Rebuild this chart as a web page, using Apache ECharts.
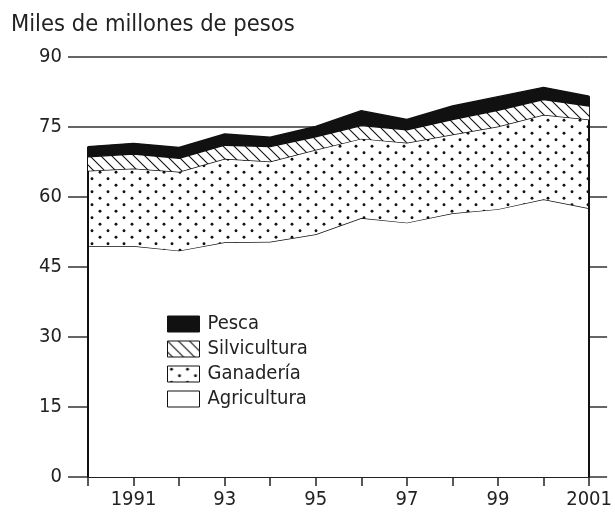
<!DOCTYPE html>
<html>
<head>
<meta charset="utf-8">
<script src="https://cdn.jsdelivr.net/npm/echarts@6/dist/echarts.min.js"></script>
<style>
html,body{margin:0;padding:0;background:#fff;}
#chart{width:615px;height:520px;}
</style>
</head>
<body>
<div id="chart"></div>
<script>
// ---- Data ----
const years = ['1990','1991','1992','1993','1994','1995','1996','1997','1998','1999','2000','2001'];
const agricultura  = [49.5,49.5,48.5,50.3,50.4,52.0,55.5,54.5,56.5,57.4,59.5,57.6];
const ganaderia    = [16.1,16.6,16.9,17.9,17.2,18.1,17.0,17.1,16.9,17.7,18.1,19.0];
const silvicultura = [3.0,3.1,2.9,2.9,3.2,2.8,2.8,2.8,3.2,3.5,3.3,2.9];
const pesca        = [2.2,2.3,2.3,2.4,2.0,2.2,3.2,2.2,2.9,2.9,2.6,2.1];
const xTickLabels = ['', '1991', '', '93', '', '95', '', '97', '', '99', '', '2001'];
const yTicks = [0,15,30,45,60,75,90];
const seriesNames = ['Agricultura','Ganadería','Silvicultura','Pesca'];
const titleText = 'Miles de millones de pesos';

const FONT = "'Liberation Sans Narrow','DejaVu Sans Condensed','Roboto Condensed',sans-serif";

// ---- Patterns ----
function dotPattern(){
  const c = document.createElement('canvas'); c.width = 16; c.height = 13;
  const g = c.getContext('2d');
  g.fillStyle = '#fff'; g.fillRect(0,0,16,13);
  g.fillStyle = '#111';
  [[4,3.2],[12,9.7]].forEach(p=>{g.beginPath();g.arc(p[0],p[1],1.45,0,Math.PI*2);g.fill();});
  return c;
}
function hatchPattern(){
  const s = 11;
  const c = document.createElement('canvas'); c.width = s; c.height = s;
  const g = c.getContext('2d');
  g.fillStyle = '#fff'; g.fillRect(0,0,s,s);
  g.strokeStyle = '#111'; g.lineWidth = 1.1;
  g.beginPath();
  g.moveTo(-1,-1); g.lineTo(s+1,s+1);
  g.moveTo(-1,s-1); g.lineTo(1,s+1);
  g.moveTo(s-1,-1); g.lineTo(s+1,1);
  g.stroke();
  return c;
}
const fills = {
  'Agricultura': '#ffffff',
  'Ganadería': {image: dotPattern(), repeat: 'repeat'},
  'Silvicultura': {image: hatchPattern(), repeat: 'repeat'},
  'Pesca': '#111111'
};
const valuesByName = {
  'Agricultura': agricultura, 'Ganadería': ganaderia,
  'Silvicultura': silvicultura, 'Pesca': pesca
};

const totals = years.map((y,i)=>agricultura[i]+ganaderia[i]+silvicultura[i]+pesca[i]);
const last = years.length-1;

const series = seriesNames.map((n,k)=>({
  name: n, type: 'line', stack: 'total', symbol: 'none', smooth: false,
  data: valuesByName[n],
  lineStyle: {color: '#111', width: 1.4},
  itemStyle: {color: '#111'},
  areaStyle: {color: fills[n], opacity: 1},
  z: 3 + k
}));
// vertical edges of the area block
series.push({
  type: 'line', symbol: 'none', silent: true, z: 10, data: [],
  markLine: {
    silent: true, symbol: ['none','none'], label: {show: false},
    lineStyle: {color: '#111', width: 2, type: 'solid'},
    data: [
      [{coord: [0, 0]}, {coord: [0, totals[0]]}],
      [{coord: [last, 0]}, {coord: [last, totals[last]]}]
    ]
  }
});

const chart = echarts.init(document.getElementById('chart'), null, {renderer:'canvas'});
chart.setOption({
  animation: false,
  backgroundColor: '#fff',
  title: {
    text: titleText, left: 6, top: 8,
    textStyle: {fontFamily: FONT, fontSize: 23.5, fontWeight: 'normal', color: '#222'}
  },
  grid: {left: 88, right: 25, top: 57, bottom: 43, containLabel: false},
  legend: {
    orient: 'vertical', left: 162, top: 309,
    itemWidth: 32, itemHeight: 16, itemGap: 5, icon: 'rect',
    textStyle: {fontFamily: FONT, fontSize: 20, color: '#222', padding: [0,0,0,3]},
    data: seriesNames.slice().reverse().map(n=>({
      name: n, icon: 'rect',
      itemStyle: {color: fills[n], borderColor: '#111', borderWidth: 1}
    }))
  },
  xAxis: {
    type: 'category', data: years, boundaryGap: false,
    axisLine: {show: true, lineStyle: {color: '#222', width: 2}},
    axisTick: {show: true, length: 9, interval: 0, lineStyle: {color: '#222', width: 1.5}},
    splitLine: {show: false},
    axisLabel: {
      fontFamily: FONT, fontSize: 20, color: '#222', margin: 13, interval: 0,
      formatter: (v, i) => xTickLabels[i]
    }
  },
  yAxis: [{
    type: 'value', min: yTicks[0], max: yTicks[yTicks.length-1], interval: 15,
    axisLine: {show: false},
    axisTick: {show: true, length: 20, lineStyle: {color: '#333', width: 1.5}},
    splitLine: {show: true, lineStyle: {color: '#333', width: 1.5}},
    axisLabel: {fontFamily: FONT, fontSize: 20, color: '#222', margin: 26}
  },{
    type: 'value', position: 'right', min: yTicks[0], max: yTicks[yTicks.length-1], interval: 15,
    axisLine: {show: false},
    axisTick: {show: true, length: 18, lineStyle: {color: '#333', width: 1.5}},
    splitLine: {show: false},
    axisLabel: {show: false}
  }],
  series: series
});
</script>
</body>
</html>
